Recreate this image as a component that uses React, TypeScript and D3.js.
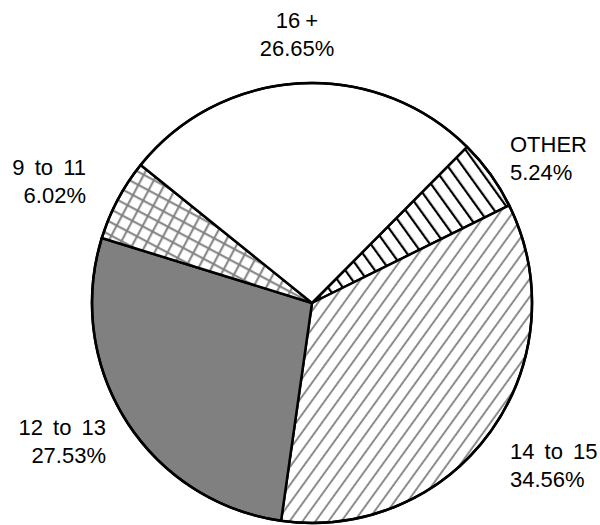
import * as d3 from 'd3'

// slice order runs clockwise from the OTHER wedge
const categories = ['OTHER', '14 to 15', '12 to 13', '9 to 11', '16 +']
const shares = [5.24, 34.56, 27.53, 6.02, 26.65]
const fills = ['vlines', 'diag', 'solid', 'grid', 'none']

// label placement (layout only)
const labelLayout: { x: number; y: number; anchor: 'start' | 'middle' | 'end'; gap: number }[] = [
  { x: 510, y: 152, anchor: 'start', gap: 4 },
  { x: 510, y: 459, anchor: 'start', gap: 4 },
  { x: 106, y: 435, anchor: 'end', gap: 4 },
  { x: 86, y: 175, anchor: 'end', gap: 4 },
  { x: 297, y: 28, anchor: 'middle', gap: -1 },
]

const W = 600
const H = 525
const cx = 312
const cy = 303
const R = 220
const START = (44.8 * Math.PI) / 180

type Row = { label: string; value: number; fill: string }

export default function App() {
  const rows: Row[] = categories.map((label, i) => ({ label, value: shares[i], fill: fills[i] }))
  const pie = d3
    .pie<Row>()
    .sort(null)
    .value((d) => d.value)
    .startAngle(START)
    .endAngle(START + 2 * Math.PI)
  const arcs = pie(rows)
  const arc = d3.arc<d3.PieArcDatum<Row>>().innerRadius(0).outerRadius(R)

  // pattern lines run perpendicular to each slice's bisector
  const rot = (a: d3.PieArcDatum<Row>) => (((a.startAngle + a.endAngle) / 2) * 180) / Math.PI - 90

  const fillFor = (a: d3.PieArcDatum<Row>, i: number) => {
    if (a.data.fill === 'solid') return '#808080'
    if (a.data.fill === 'none') return '#fff'
    return `url(#pat-${i})`
  }

  return (
    <svg
      width={W}
      height={H}
      style={{ position: 'absolute', left: 0, top: 0, background: '#fff' }}
      fontFamily='"Liberation Sans", Arial, Helvetica, sans-serif'
    >
      <defs>
        {arcs.map((a, i) => {
          const kind = a.data.fill
          if (kind === 'vlines') {
            return (
              <pattern key={i} id={`pat-${i}`} patternUnits="userSpaceOnUse" width={12} height={12}
                patternTransform={`translate(${cx},${cy}) rotate(${rot(a)})`}>
                <rect width={12} height={12} fill="#fff" />
                <rect x={5} width={2.2} height={12} fill="#000" />
              </pattern>
            )
          }
          if (kind === 'diag') {
            return (
              <pattern key={i} id={`pat-${i}`} patternUnits="userSpaceOnUse" width={10.5} height={10.5}
                patternTransform={`translate(${cx},${cy}) rotate(${rot(a)})`}>
                <rect width={10.5} height={10.5} fill="#fff" />
                <rect x={4} width={1.8} height={10.5} fill="#808080" />
              </pattern>
            )
          }
          if (kind === 'grid') {
            return (
              <pattern key={i} id={`pat-${i}`} patternUnits="userSpaceOnUse" width={11.5} height={11.5}
                patternTransform={`translate(${cx},${cy}) rotate(${rot(a)})`}>
                <rect width={11.5} height={11.5} fill="#fff" />
                <rect x={4.5} width={2} height={11.5} fill="#808080" />
                <rect y={4.5} width={11.5} height={2} fill="#808080" />
              </pattern>
            )
          }
          return null
        })}
      </defs>
      <g transform={`translate(${cx},${cy})`}>
        {arcs.map((a, i) => (
          <path key={a.data.label} d={arc(a) ?? ''} fill={fillFor(a, i)} stroke="#000"
            strokeWidth={2.5} strokeLinejoin="round" />
        ))}
        <circle r={R} fill="none" stroke="#000" strokeWidth={2.5} />
      </g>
      {arcs.map((a, i) => {
        const l = labelLayout[i]
        return (
          <text key={a.data.label} x={l.x} y={l.y} textAnchor={l.anchor} fontSize={22} fill="#000"
            wordSpacing={l.gap}>
            <tspan x={l.x}>{a.data.label}</tspan>
            <tspan x={l.x} dy={28}>{`${a.data.value.toFixed(2)}%`}</tspan>
          </text>
        )
      })}
    </svg>
  )
}
